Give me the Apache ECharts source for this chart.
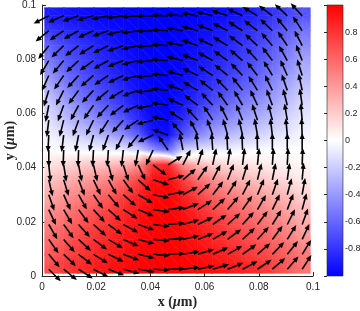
<!DOCTYPE html>
<html><head><meta charset="utf-8">
<script src="https://cdn.jsdelivr.net/npm/echarts@6/dist/echarts.min.js"></script>
<style>html,body{margin:0;padding:0;background:#fff}#c{width:360px;height:311px}</style>
</head><body><div id="c"></div>
<script>
// arrow grid positions (µm)
const xPos = [0.0025, 0.008, 0.0135, 0.019, 0.0245, 0.03, 0.0355, 0.041, 0.0465, 0.052, 0.0575, 0.063, 0.0685, 0.074, 0.0795, 0.085, 0.0905, 0.096];
// rows listed from top to bottom
const yPos = [0.096, 0.0905, 0.085, 0.0795, 0.074, 0.0685, 0.063, 0.0575, 0.052, 0.0465, 0.041, 0.0355, 0.03, 0.0245, 0.019, 0.0135, 0.008, 0.0025];
// in-plane magnetisation direction (degrees, counter-clockwise from +x), row by row (top -> bottom)
const angleRows = [
  [207, 203, 199, 195, 191, 187, 184, 181, 178, 175, 171, 166, 161, 155, 149, 143, 137, 132],
  [219, 214, 209, 204, 199, 194, 188, 182, 177, 171, 165, 159, 153, 147, 142, 136, 129, 123],
  [232, 224, 218, 212, 206, 199, 192, 184, 176, 169, 161, 155, 149, 143, 137, 131, 124, 117],
  [239, 230, 223, 216, 209, 202, 194, 185, 176, 167, 159, 151, 145, 139, 133, 127, 119, 111],
  [246, 236, 228, 221, 214, 206, 196, 186, 175, 165, 155, 147, 140, 134, 128, 121, 114, 107],
  [253, 243, 234, 227, 220, 211, 200, 187, 174, 161, 150, 141, 134, 128, 122, 116, 109, 102],
  [259, 250, 242, 235, 227, 218, 205, 190, 172, 156, 143, 133, 126, 120, 115, 110, 104, 98],
  [263, 256, 250, 244, 237, 228, 214, 194, 169, 147, 133, 123, 117, 112, 108, 104, 99, 95],
  [267, 263, 259, 255, 250, 243, 231, 205, 160, 131, 118, 110, 106, 103, 100, 97, 95, 92],
  [270, 268, 268, 267, 266, 264, 260, 245, 125, 101, 96, 94, 93, 92, 91, 90, 90, 90],
  [276, 279, 281, 283, 285, 288, 295, 322, 32, 63, 73, 78, 81, 83, 84, 86, 87, 88],
  [283, 287, 291, 295, 299, 306, 318, 342, 15, 40, 55, 63, 69, 73, 76, 79, 82, 85],
  [289, 294, 299, 304, 310, 318, 330, 349, 10, 28, 42, 52, 58, 63, 67, 71, 75, 80],
  [295, 300, 306, 312, 318, 327, 337, 352, 7, 21, 33, 43, 50, 55, 60, 64, 69, 75],
  [300, 306, 312, 318, 324, 332, 341, 353, 5, 16, 26, 35, 42, 48, 53, 58, 63, 70],
  [305, 311, 317, 323, 329, 336, 345, 355, 4, 13, 22, 30, 37, 43, 48, 53, 58, 65],
  [310, 316, 322, 328, 334, 340, 347, 355, 3, 10, 17, 24, 30, 36, 41, 46, 51, 58],
  [315, 321, 327, 333, 339, 345, 351, 357, 2, 7, 12, 17, 22, 28, 34, 41, 49, 57]
];
// colored sample extent (µm)
const sampleMin = 0.001, sampleMax = 0.099;
const axisTickValues = [0, 0.02, 0.04, 0.06, 0.08, 0.1];
const colorbarTickValues = [-0.8, -0.6, -0.4, -0.2, 0, 0.2, 0.4, 0.6, 0.8];

// colour-mapped quantity: x component of magnetisation
const mxRows = angleRows.map(r => r.map(a => Math.cos(a * Math.PI / 180)));

// mesh for shading (outer ring reaches the sample edge, values held from nearest node)
const meshX = [sampleMin].concat(xPos, [sampleMax]);
const meshY = [sampleMax].concat(yPos, [sampleMin]);
function meshVal(i, j) {
  const ii = Math.min(Math.max(i - 1, 0), xPos.length - 1);
  const jj = Math.min(Math.max(j - 1, 0), yPos.length - 1);
  return mxRows[jj][ii];
}
const cells = [];
for (let j = 0; j < meshY.length - 1; j++)
  for (let i = 0; i < meshX.length - 1; i++)
    cells.push([(meshX[i] + meshX[i + 1]) / 2, (meshY[j] + meshY[j + 1]) / 2, i, j]);

const arrows = [];
yPos.forEach((y, j) => xPos.forEach((x, i) => arrows.push([x, y, angleRows[j][i]])));

const cmapStops = [
  { offset: 0, color: 'rgb(0,0,255)' },
  { offset: 0.5, color: 'rgb(255,255,255)' },
  { offset: 1, color: 'rgb(255,0,0)' }
];
function colorAt(v) {
  v = Math.max(-1, Math.min(1, v));
  if (v < 0) { const t = Math.round(255 * (1 + v)); return `rgb(${t},${t},255)`; }
  const t = Math.round(255 * (1 - v)); return `rgb(255,${t},${t})`;
}
const SEAM = 0.6;
function triangle(P, V) {
  const [p0, p1, p2] = P;
  const e1x = p1[0] - p0[0], e1y = p1[1] - p0[1], e2x = p2[0] - p0[0], e2y = p2[1] - p0[1];
  const d1 = V[1] - V[0], d2 = V[2] - V[0];
  const det = e1x * e2y - e1y * e2x;
  let fill;
  const gx = (d1 * e2y - e1y * d2) / det, gy = (e1x * d2 - d1 * e2x) / det;
  const g2 = gx * gx + gy * gy;
  if (!isFinite(g2) || g2 < 1e-9) {
    fill = colorAt((V[0] + V[1] + V[2]) / 3);
  } else {
    const ax = p0[0] + (-1 - V[0]) * gx / g2, ay = p0[1] + (-1 - V[0]) * gy / g2;
    const bx = p0[0] + (1 - V[0]) * gx / g2, by = p0[1] + (1 - V[0]) * gy / g2;
    // gradient given relative to the element's bounding rect (incl. stroke)
    const xs = P.map(p => p[0]), ys = P.map(p => p[1]);
    const rx = Math.min(...xs) - SEAM / 2, ry = Math.min(...ys) - SEAM / 2;
    const rw = Math.max(...xs) - Math.min(...xs) + SEAM, rh = Math.max(...ys) - Math.min(...ys) + SEAM;
    fill = { type: 'linear', x: (ax - rx) / rw, y: (ay - ry) / rh, x2: (bx - rx) / rw, y2: (by - ry) / rh,
      colorStops: cmapStops, global: false };
  }
  return { type: 'polygon', shape: { points: P }, style: { fill: fill, stroke: fill, lineWidth: SEAM } };
}
function renderCell(params, api) {
  const i = api.value(2), j = api.value(3);
  const pA = api.coord([meshX[i], meshY[j]]), pB = api.coord([meshX[i + 1], meshY[j]]);
  const pC = api.coord([meshX[i + 1], meshY[j + 1]]), pD = api.coord([meshX[i], meshY[j + 1]]);
  const vA = meshVal(i, j), vB = meshVal(i + 1, j), vC = meshVal(i + 1, j + 1), vD = meshVal(i, j + 1);
  return { type: 'group', children: [triangle([pA, pB, pC], [vA, vB, vC]), triangle([pA, pC, pD], [vA, vC, vD])] };
}
function renderArrow(params, api) {
  const p = api.coord([api.value(0), api.value(1)]);
  const a = api.value(2) * Math.PI / 180;
  const dx = Math.cos(a), dy = -Math.sin(a);
  const L = 17, hl = 6, hw = 2.6;
  const bx = p[0] + dx * (L - hl), by = p[1] + dy * (L - hl);
  const tx = p[0] + dx * L, ty = p[1] + dy * L;
  const px = -dy, py = dx;
  return { type: 'group', children: [
    { type: 'line', shape: { x1: p[0], y1: p[1], x2: bx + dx, y2: by + dy }, style: { stroke: '#000', lineWidth: 1.6 } },
    { type: 'polygon', shape: { points: [[tx, ty], [bx + px * hw, by + py * hw], [bx - px * hw, by - py * hw]] }, style: { fill: '#000' } }
  ] };
}
function renderColorbar(params, api) {
  const cs = params.coordSys;
  return { type: 'rect', shape: { x: cs.x, y: cs.y, width: cs.width, height: cs.height },
    style: { fill: new echarts.graphic.LinearGradient(0, 1, 0, 0, cmapStops), stroke: '#262626', lineWidth: 0.6 } };
}
const fmt = v => String(+(+v).toFixed(3));
const axisCommon = {
  type: 'value', min: axisTickValues[0], max: axisTickValues[axisTickValues.length - 1],
  interval: axisTickValues[1] - axisTickValues[0],
  axisLine: { show: true, lineStyle: { color: '#262626', width: 1 } },
  axisTick: { show: true, inside: true, length: 4, lineStyle: { color: '#262626' } },
  splitLine: { show: false },
  axisLabel: { fontSize: 10, color: '#262626', fontFamily: 'Liberation Sans', margin: 6, formatter: fmt },
  nameLocation: 'middle',
  nameMoveOverlap: false,
  nameTextStyle: {
    align: 'center', verticalAlign: 'middle',
    rich: {
      a: { fontFamily: 'Liberation Serif', fontWeight: 'bold', fontSize: 14, color: '#262626' },
      b: { fontFamily: 'Liberation Serif', fontWeight: 'bold', fontStyle: 'italic', fontSize: 14, color: '#262626' }
    }
  }
};
const chart = echarts.init(document.getElementById('c'), null, { renderer: 'canvas' });
chart.setOption({
  animation: false,
  grid: [
    { left: 42, top: 5, width: 271, height: 271, containLabel: false, outerBoundsMode: 'none' },
    { left: 327, top: 5, width: 16, height: 271, containLabel: false, outerBoundsMode: 'none' }
  ],
  xAxis: [
    Object.assign({}, axisCommon, { gridIndex: 0, name: '{a|x (}{b|μ}{a|m)}', nameGap: 26 }),
    { gridIndex: 1, type: 'value', min: 0, max: 1, show: false }
  ],
  yAxis: [
    Object.assign({}, axisCommon, { gridIndex: 0, name: '{a|y (}{b|μ}{a|m)}', nameGap: 32, nameRotate: 90 }),
    { gridIndex: 1, type: 'value', position: 'right', min: -1, max: 1, interval: 0.2,
      axisLine: { show: false }, splitLine: { show: false },
      axisTick: { show: true, inside: true, length: 3, lineStyle: { color: '#262626' } },
      axisLabel: { fontSize: 9, color: '#262626', fontFamily: 'Liberation Sans', margin: 2,
        formatter: v => colorbarTickValues.some(t => Math.abs(t - v) < 1e-9) ? fmt(v) : '' } }
  ],
  series: [
    { type: 'custom', xAxisIndex: 0, yAxisIndex: 0, data: cells, renderItem: renderCell, clip: false, silent: true, z: 1 },
    { type: 'custom', xAxisIndex: 0, yAxisIndex: 0, data: arrows, renderItem: renderArrow, clip: false, silent: true, z: 5 },
    { type: 'custom', xAxisIndex: 1, yAxisIndex: 1, data: [[0.5, 0]], renderItem: renderColorbar, clip: false, silent: true, z: 1 }
  ]
});
</script></body></html>
